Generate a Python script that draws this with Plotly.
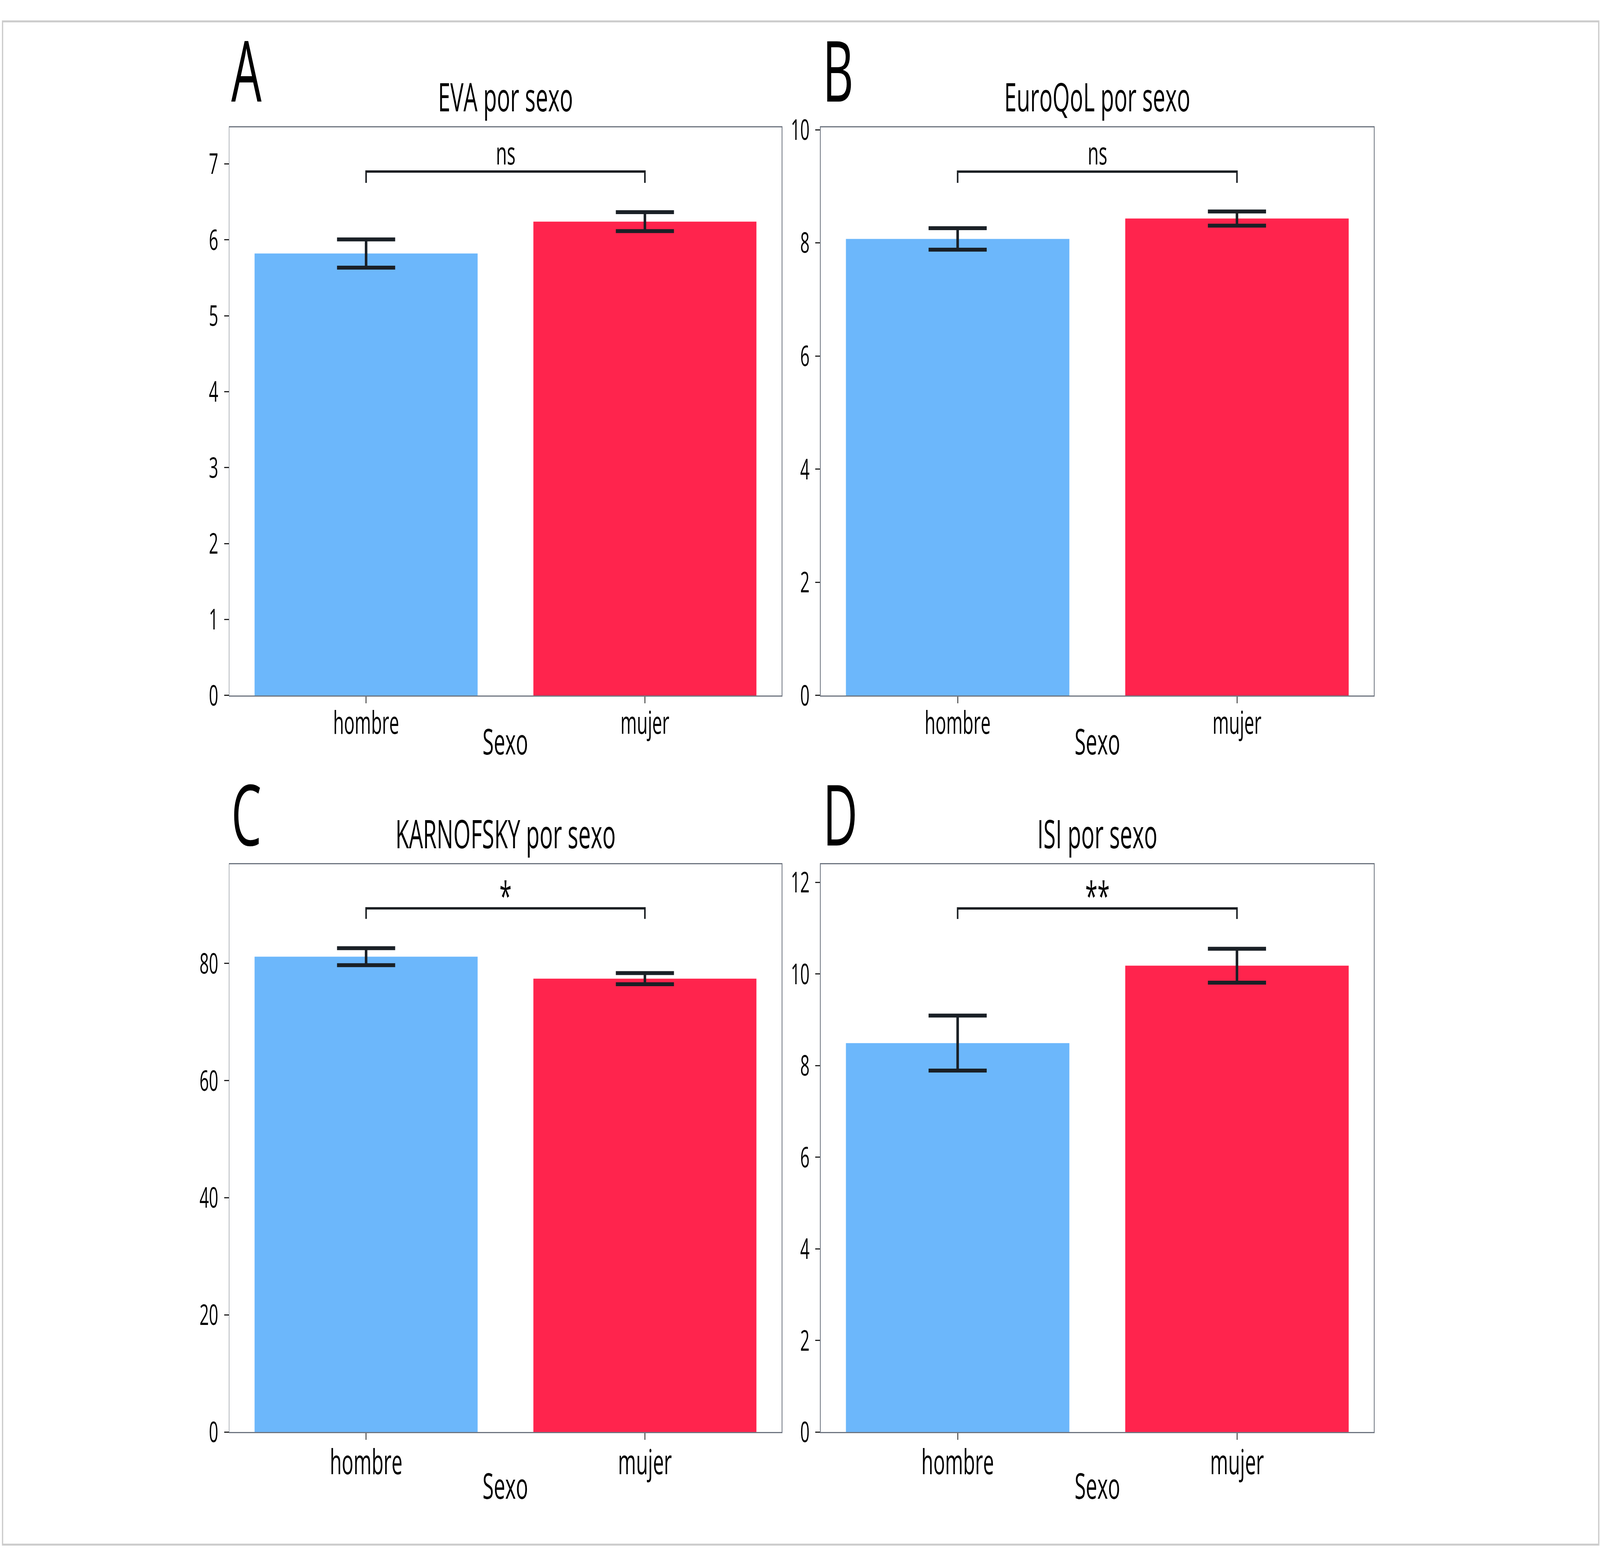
import plotly.graph_objects as go

W, H = 6275, 4008

# ---------------- data ----------------
categories = ["hombre", "mujer"]
panel_letters = ["A", "B", "C", "D"]
panel_titles = ["EVA por sexo", "EuroQoL por sexo", "KARNOFSKY por sexo", "ISI por sexo"]
x_axis_title = "Sexo"

eva_means = [5.82, 6.24]
eva_errors = [0.186, 0.125]
euroqol_means = [8.07, 8.43]
euroqol_errors = [0.19, 0.125]
karnofsky_means = [81.15, 77.4]
karnofsky_errors = [1.45, 0.95]
isi_means = [8.49, 10.18]
isi_errors = [0.60, 0.37]

y_ranges = [[0, 7.48], [0, 10.04], [0, 96.9], [0, 12.39]]
y_dticks = [1, 2, 20, 2]

bracket_tops = [6.90, 9.26, 89.4, 11.43]
bracket_legs = [6.75, 9.06, 87.6, 11.20]
significance = ["ns", "ns", "*", "**"]

bar_colors = ["#6CB7FB", "#FF244D"]

# ---------------- layout geometry (pixels) ----------------
FONT = ("Noto Sans SemiCondensed, Noto Sans Condensed, Liberation Sans Narrow, "
        "Open Sans, sans-serif")
col_x = [(900, 3065), (3219, 5388)]
row_y = [(286, 1775), (2218, 3706)]


def px_x(x):
    return x / W


def px_y(y):
    return 1 - y / H


fig = go.Figure()

panels = [
    (eva_means, eva_errors),
    (euroqol_means, euroqol_errors),
    (karnofsky_means, karnofsky_errors),
    (isi_means, isi_errors),
]

annotations = []
for i, (means, errs) in enumerate(panels):
    r, c = divmod(i, 2)
    n = i + 1
    xa = "x" if n == 1 else f"x{n}"
    ya = "y" if n == 1 else f"y{n}"
    x0, x1 = col_x[c]
    yt, yb = row_y[r]

    fig.add_trace(go.Bar(
        x=categories, y=means, xaxis=xa, yaxis=ya,
        marker=dict(color=bar_colors, line=dict(width=0)),
        width=0.8,
        error_y=dict(type="data", array=errs, visible=True,
                     thickness=10, width=114, color="#1a2026"),
        showlegend=False, hoverinfo="skip",
    ))
    fig.add_trace(go.Scatter(
        x=[categories[0], categories[0], categories[1], categories[1]],
        y=[bracket_legs[i], bracket_tops[i], bracket_tops[i], bracket_legs[i]],
        xaxis=xa, yaxis=ya, mode="lines",
        line=dict(color="#1a1e22", width=6),
        showlegend=False, hoverinfo="skip",
    ))

    xtick_size = 80 if r == 0 else 88
    fig.layout[f"xaxis{'' if n == 1 else n}"] = dict(
        domain=[px_x(x0), px_x(x1)], anchor=ya,
        type="category", categoryorder="array", categoryarray=categories,
        range=[-0.49, 1.49],
        showline=True, mirror=True, linecolor="#6e7580", linewidth=3,
        ticks="outside", ticklen=17, tickwidth=3, tickcolor="#222222",
        showgrid=False, zeroline=False,
        tickfont=dict(family=FONT, size=xtick_size, color="#000000"),
        ticklabelstandoff=-18,
    )
    fig.layout[f"yaxis{'' if n == 1 else n}"] = dict(
        domain=[px_y(yb), px_y(yt)], anchor=xa,
        range=y_ranges[i], dtick=y_dticks[i], tick0=0,
        showline=True, mirror=True, linecolor="#6e7580", linewidth=3,
        ticks="outside", ticklen=18, tickwidth=3, tickcolor="#222222",
        showgrid=False, zeroline=False,
        tickfont=dict(family=FONT, size=74, color="#000000"),
        ticklabelstandoff=8,
    )

    cx = (x0 + x1) / 2
    sig = significance[i]
    annotations.append(dict(
        x=0.5, y=bracket_tops[i], xref=f"{xa} domain", yref=ya,
        text=sig, showarrow=False, xanchor="center", yanchor="bottom",
        yshift=-8 if sig == "ns" else -36,
        font=dict(family=FONT, size=81 if sig == "ns" else 100, color="#000000"),
    ))
    annotations.append(dict(
        x=px_x(cx), y=px_y(yt - 39), xref="paper", yref="paper",
        text=panel_titles[i], showarrow=False, xanchor="center", yanchor="bottom",
        yshift=-28,
        font=dict(family=FONT, size=100, color="#000000"),
    ))
    annotations.append(dict(
        x=px_x(x0 - 4), y=px_y(yt - 55), xref="paper", yref="paper",
        text=panel_letters[i], showarrow=False, xanchor="left", yanchor="bottom",
        yshift=-52 if r == 0 else -70,
        font=dict(family=FONT, size=216, color="#000000"),
    ))
    annotations.append(dict(
        x=px_x(cx), y=px_y(yb + (158 if r == 0 else 178)), xref="paper", yref="paper",
        text=x_axis_title, showarrow=False, xanchor="center", yanchor="bottom",
        yshift=-26,
        font=dict(family=FONT, size=92, color="#000000"),
    ))

fig.update_layout(
    width=W, height=H,
    margin=dict(l=0, r=0, t=0, b=0),
    paper_bgcolor="#ffffff", plot_bgcolor="#ffffff",
    annotations=annotations,
    shapes=[dict(type="rect", xref="paper", yref="paper",
                 x0=px_x(10), x1=px_x(6270), y0=px_y(4001), y1=px_y(8),
                 line=dict(color="#cccccc", width=5))],
    font=dict(family=FONT),
)

post_js = """
document.documentElement.style.margin = '0';
document.body.style.margin = '0';
document.body.style.overflow = 'hidden';
var gd = document.getElementById('{plot_id}');
// the reference typeface is narrower than the installed one: tighten text widths
gd.querySelectorAll('text').forEach(function (t) {
    var L = t.getComputedTextLength();
    if (L > 0) {
        t.setAttribute('textLength', (L * 0.87).toFixed(2));
        t.setAttribute('lengthAdjust', 'spacingAndGlyphs');
    }
});
// fit the figure into the actual viewport if it is smaller than requested
var sx = Math.min(1, window.innerWidth / %d);
var sy = Math.min(1, window.innerHeight / %d);
if (sx < 1 || sy < 1) {
    gd.style.transformOrigin = '0 0';
    gd.style.transform = 'scale(' + sx + ',' + sy + ')';
}
""" % (W, H)

fig.write_html("out.html", post_script=post_js,
               config={"displayModeBar": False, "responsive": False})
